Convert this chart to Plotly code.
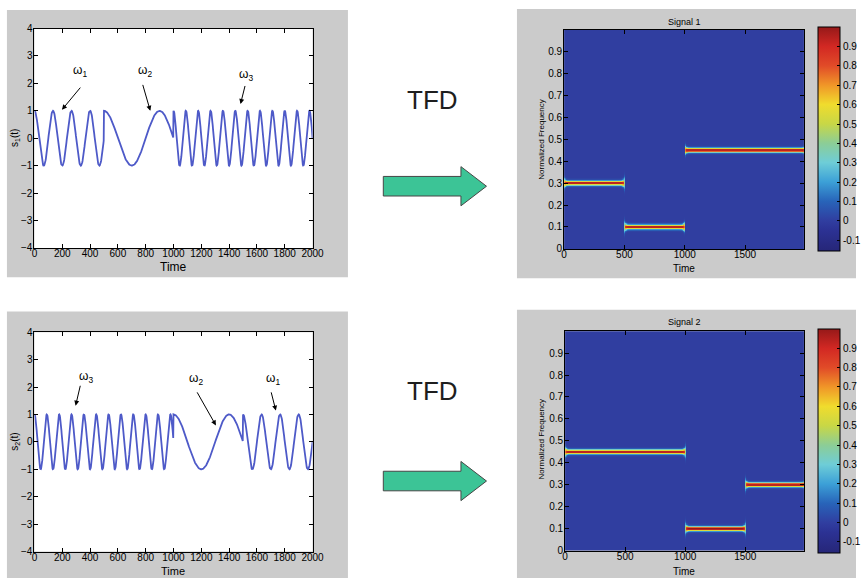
import numpy as np
import plotly.graph_objects as go

# Piecewise-stationary test signals: segment edges (time) and normalized frequency of each segment
SIG1_EDGES = [0, 500, 1000, 2000]
SIG1_FREQS = [0.30, 0.10, 0.45]
SIG1_TAGS = ["ω<sub>1</sub>", "ω<sub>2</sub>", "ω<sub>3</sub>"]

SIG2_EDGES = [0, 1000, 1500, 2000]
SIG2_FREQS = [0.45, 0.10, 0.30]
SIG2_TAGS = ["ω<sub>3</sub>", "ω<sub>2</sub>", "ω<sub>1</sub>"]

TIME_PER_SAMPLE = 40          # plotted time units per sample period
SIGNAL_TICKS = list(range(0, 2001, 200))
TFD_TIME_TICKS = [0, 500, 1000, 1500]
TFD_FREQ_TICKS = [0, 0.1, 0.2, 0.3, 0.4, 0.5, 0.6, 0.7, 0.8, 0.9]
CBAR_TICKS = [-0.1, 0, 0.1, 0.2, 0.3, 0.4, 0.5, 0.6, 0.7, 0.8, 0.9]
Z_MIN, Z_MAX = -0.157, 1.0

W, H = 868, 584
FONT = "Liberation Sans"


def px_x(x):
    return x / W


def px_y(y):
    return 1 - y / H


def build_signal(edges, freqs, t):
    s = np.zeros_like(t, dtype=float)
    n = len(freqs)
    for i, (a, b, f) in enumerate(zip(edges[:-1], edges[1:], freqs)):
        m = (t >= a) & ((t < b) if i < n - 1 else (t <= b))
        s[m] = np.cos(2 * np.pi * f * (t[m] - a) / TIME_PER_SAMPLE)
    return s


def build_tfd(edges, freqs, tt, ff):
    Z = np.zeros((len(ff), len(tt)))
    for a, b, f in zip(edges[:-1], edges[1:], freqs):
        m = (tt >= a) & (tt <= b)
        d = np.minimum(tt[m] - a, b - tt[m])
        amp = 1 - 0.55 * np.exp(-d / 6.0)
        sig = 0.0068 * (1 + 1.6 * np.exp(-d / 8.0))
        ridge = amp[None, :] * np.exp(-((ff[:, None] - f) ** 2) / (2 * sig[None, :] ** 2))
        Z[:, m] = np.maximum(Z[:, m], ridge)
    return np.round(Z, 3)


t = np.arange(0, 2001, 2)
s1 = build_signal(SIG1_EDGES, SIG1_FREQS, t)
s2 = build_signal(SIG2_EDGES, SIG2_FREQS, t)

tt = np.arange(0, 1992, 5.0)
ff = np.arange(0, 1.0001, 0.0025)
tfd1 = build_tfd(SIG1_EDGES, SIG1_FREQS, tt, ff)
tfd2 = build_tfd(SIG2_EDGES, SIG2_FREQS, tt, ff)

# muted jet colour map
jet_stops = [
    (-0.157, "rgb(38,38,120)"),
    (-0.05, "rgb(44,50,148)"),
    (0.0, "rgb(48,62,160)"),
    (0.1, "rgb(40,100,185)"),
    (0.2, "rgb(60,160,215)"),
    (0.3, "rgb(110,205,215)"),
    (0.4, "rgb(140,205,150)"),
    (0.5, "rgb(200,215,70)"),
    (0.6, "rgb(240,220,45)"),
    (0.7, "rgb(240,150,40)"),
    (0.8, "rgb(225,75,40)"),
    (0.9, "rgb(210,40,35)"),
    (1.0, "rgb(150,25,25)"),
]
colorscale = [[(v - Z_MIN) / (Z_MAX - Z_MIN), c] for v, c in jet_stops]

LINE_BLUE = "rgb(78,90,200)"

fig = go.Figure()
fig.add_trace(go.Scatter(x=t, y=s1, mode="lines", line=dict(color=LINE_BLUE, width=1.8),
                         xaxis="x", yaxis="y", showlegend=False))
fig.add_trace(go.Scatter(x=t, y=s2, mode="lines", line=dict(color=LINE_BLUE, width=1.8),
                         xaxis="x3", yaxis="y3", showlegend=False))


def cbar(top, bottom):
    return dict(
        x=px_x(829), xanchor="left", xref="paper",
        y=px_y((top + bottom) / 2), yanchor="middle", yref="paper",
        len=bottom - top, lenmode="pixels",
        thickness=22, thicknessmode="pixels",
        outlinecolor="black", outlinewidth=1,
        tickvals=CBAR_TICKS, ticktext=[f"{v:g}" for v in CBAR_TICKS],
        ticks="inside", ticklen=3, tickcolor="black",
        tickfont=dict(family=FONT, size=10, color="black"),
        xpad=0, ypad=0,
    )


fig.add_trace(go.Heatmap(x=tt, y=ff, z=tfd1, zmin=Z_MIN, zmax=Z_MAX, colorscale=colorscale,
                         xaxis="x2", yaxis="y2", colorbar=cbar(24, 248)))
fig.add_trace(go.Heatmap(x=tt, y=ff, z=tfd2, zmin=Z_MIN, zmax=Z_MAX, colorscale=colorscale,
                         xaxis="x4", yaxis="y4", colorbar=cbar(332, 556)))

axis_style = dict(showline=True, linecolor="black", linewidth=1, mirror="allticks",
                  ticks="inside", ticklen=4, tickcolor="black", showgrid=False, zeroline=False,
                  tickfont=dict(family=FONT, size=10, color="black"))

# axes boxes in pixels: (left, right, top, bottom)
BOX_TL = (32, 315, 23, 247)
BOX_TR = (571, 815, 24, 248)
BOX_BL = (32, 315, 333, 557)
BOX_BR = (572, 815, 332, 556)


def dom_x(b):
    return [px_x(b[0]), px_x(b[1])]


def dom_y(b):
    return [px_y(b[3]), px_y(b[2])]


sig_x = dict(axis_style, range=[0, 2000], tickvals=SIGNAL_TICKS, ticklabelstandoff=-4)
sig_y = dict(axis_style, range=[-4, 4], tickvals=list(range(-4, 5)), ticklabelstandoff=-1)
tfd_x = dict(axis_style, range=[0, 1988], tickvals=TFD_TIME_TICKS, ticklabelstandoff=-4)
tfd_y = dict(axis_style, range=[0, 1.0], tickvals=TFD_FREQ_TICKS,
             ticktext=[f"{v:g}" for v in TFD_FREQ_TICKS], ticklabelstandoff=-1)

fig.update_layout(
    width=W, height=H, autosize=False,
    margin=dict(l=0, r=0, t=0, b=0),
    paper_bgcolor="white", plot_bgcolor="white",
    xaxis=dict(sig_x, domain=dom_x(BOX_TL), anchor="y"),
    yaxis=dict(sig_y, domain=dom_y(BOX_TL), anchor="x"),
    xaxis2=dict(tfd_x, domain=dom_x(BOX_TR), anchor="y2"),
    yaxis2=dict(tfd_y, domain=dom_y(BOX_TR), anchor="x2"),
    xaxis3=dict(sig_x, domain=dom_x(BOX_BL), anchor="y3"),
    yaxis3=dict(sig_y, domain=dom_y(BOX_BL), anchor="x3"),
    xaxis4=dict(tfd_x, domain=dom_x(BOX_BR), anchor="y4"),
    yaxis4=dict(tfd_y, domain=dom_y(BOX_BR), anchor="x4"),
    showlegend=False,
)

shapes = []
# grey figure panels
for x0, x1, y0, y1 in [(4, 351, 4, 277), (523, 868, 3, 278), (4, 351, 312, 584), (523, 868, 310, 584)]:
    shapes.append(dict(type="rect", xref="paper", yref="paper", layer="below",
                       x0=px_x(x0), x1=px_x(x1), y0=px_y(y1), y1=px_y(y0),
                       fillcolor="#cbcbcb", line=dict(width=0)))
# white plotting areas of the signal axes
for b in (BOX_TL, BOX_BL):
    shapes.append(dict(type="rect", xref="paper", yref="paper", layer="below",
                       x0=px_x(b[0]), x1=px_x(b[1]), y0=px_y(b[3]), y1=px_y(b[2]),
                       fillcolor="white", line=dict(width=0)))


# green block arrows between signal and TFD panels
def block_arrow(cy):
    pts = [(387, cy - 10), (466, cy - 10), (466, cy - 20), (492, cy), (466, cy + 20),
           (466, cy + 10), (387, cy + 10)]
    path = "M " + " L ".join(f"{px_x(x):.5f},{px_y(y):.5f}" for x, y in pts) + " Z"
    return dict(type="path", xref="paper", yref="paper", path=path,
                fillcolor="rgb(60,196,150)", line=dict(color="rgb(70,70,70)", width=1))


shapes.append(block_arrow(184))
shapes.append(block_arrow(485))
fig.update_layout(shapes=shapes)

ann = []


def text(x, y, s, size=10, angle=0, color="black"):
    ann.append(dict(x=px_x(x), y=px_y(y), xref="paper", yref="paper", text=s, showarrow=False,
                    textangle=angle, font=dict(family=FONT, size=size, color=color),
                    xanchor="center", yanchor="middle"))


# big labels
text(437, 96, "TFD", size=26, color="rgb(30,30,30)")
text(437, 393, "TFD", size=26, color="rgb(30,30,30)")

# axis labels and titles
text(173, 266, "Time", size=12)
text(173, 577, "Time", size=11)
text(12, 135, "s<sub>1</sub>(t)", size=10, angle=-90)
text(12, 445, "s<sub>2</sub>(t)", size=10, angle=-90)
text(693, 268, "Time", size=10)
text(693, 577, "Time", size=10)
text(548, 137, "Normalized Frequency", size=8, angle=-90)
text(548, 443, "Normalized Frequency", size=8, angle=-90)
text(693, 16, "Signal 1", size=9)
text(693, 323, "Signal 2", size=9)

# frequency tags with pointers (text position, arrow tail, arrow head) in data units
SIG1_NOTES = [((325, 2.45), (339, 1.9), (198, 1.04)),
              ((797, 2.45), (776, 2.0), (833, 1.0)),
              ((1524, 2.3), (1517, 1.96), (1482, 1.25))]
SIG2_NOTES = [((374, 2.35), (332, 2.1), (296, 1.32)),
              ((1164, 2.28), (1164, 1.86), (1305, 0.6)),
              ((1715, 2.28), (1700, 1.86), (1736, 1.14))]

for (xa, ya), tags, notes in [(("x", "y"), SIG1_TAGS, SIG1_NOTES), (("x3", "y3"), SIG2_TAGS, SIG2_NOTES)]:
    for tag, (tp, tail, head) in zip(tags, notes):
        ann.append(dict(x=tp[0], y=tp[1], xref=xa, yref=ya, text=tag, showarrow=False,
                        font=dict(family=FONT, size=12, color="black")))
        ann.append(dict(x=head[0], y=head[1], xref=xa, yref=ya, ax=tail[0], ay=tail[1],
                        axref=xa, ayref=ya, text="", showarrow=True, arrowhead=2,
                        arrowsize=1, arrowwidth=1, arrowcolor="black"))

fig.update_layout(annotations=ann)
fig.write_html("out.html")
